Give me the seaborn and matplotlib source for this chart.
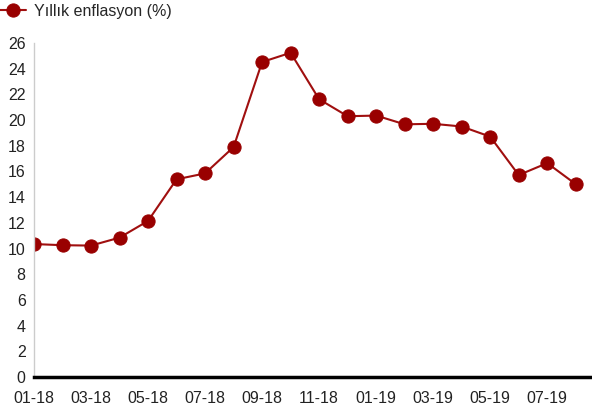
import matplotlib
matplotlib.use("Agg")
import matplotlib.pyplot as plt
import seaborn as sns
import pandas as pd

months = ["01-18", "02-18", "03-18", "04-18", "05-18", "06-18", "07-18", "08-18",
          "09-18", "10-18", "11-18", "12-18", "01-19", "02-19", "03-19", "04-19",
          "05-19", "06-19", "07-19", "08-19"]
inflation = [10.35, 10.26, 10.23, 10.85, 12.15, 15.39, 15.85, 17.90,
             24.52, 25.24, 21.62, 20.30, 20.35, 19.67, 19.71, 19.50,
             18.71, 15.72, 16.65, 15.01]
series_name = "Yıllık enflasyon (%)"
yticks = list(range(0, 27, 2))

sns.set_theme(style="white")
plt.rcParams['font.family'] = ['Liberation Sans', 'DejaVu Sans']

df = pd.DataFrame({"idx": range(len(months)), "month": months, "val": inflation})

fig = plt.figure(figsize=(5.92, 4.08), dpi=100)
ax = fig.add_axes([34/592, 31/408, (590-34)/592, (377-43)/408])

sns.lineplot(data=df, x="idx", y="val", ax=ax, color="#a00f0f", linewidth=1.5,
             marker="o", markersize=9.5, markerfacecolor="#990000",
             markeredgecolor="#990000", label=series_name)

ax.set_xlim(0, 19.5)
ax.set_ylim(0, 26)
ax.set_xticks(df["idx"][::2])
ax.set_xticklabels(df["month"][::2])
ax.set_yticks(yticks)
ax.set_xlabel("")
ax.set_ylabel("")
ax.tick_params(axis="both", length=0, labelsize=11.5, colors="#222222")
ax.tick_params(axis="y", pad=6)
ax.tick_params(axis="x", pad=10)
for s in ["top", "right"]:
    ax.spines[s].set_visible(False)
ax.spines["left"].set_color("#cccccc")
ax.spines["left"].set_linewidth(1)
ax.spines["bottom"].set_color("black")
ax.spines["bottom"].set_linewidth(2.5)
ax.spines["bottom"].set_zorder(5)

leg = ax.legend(loc="upper left", bbox_to_anchor=(-34/556, 1 + 39/334), frameon=False,
                fontsize=11.5, handlelength=1.6, handletextpad=0.5, borderaxespad=0,
                borderpad=0)
for line in leg.get_lines():
    line.set_markersize(9.5)

fig.savefig("out.png", dpi=100)
